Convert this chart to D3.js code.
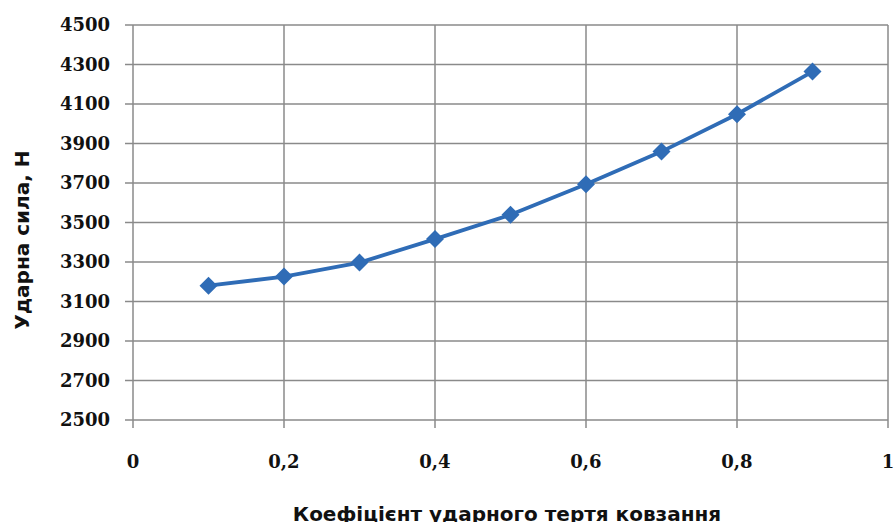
<!DOCTYPE html>
<html>
<head>
<meta charset="utf-8">
<script src="https://cdn.jsdelivr.net/npm/d3@7"></script>
<style>
  body { margin: 0; background: #fff; }
  svg { display: block; }
</style>
</head>
<body>
<svg></svg>
<script>
const width = 895, height = 522;
const margin = {left: 133, top: 25, right: 7, bottom: 102};

// data
const friction = [0.1, 0.2, 0.3, 0.4, 0.5, 0.6, 0.7, 0.8, 0.9];
const force = [3180, 3226, 3297, 3416, 3539, 3694, 3859, 4048, 4264];
const xTicks = [0, 0.2, 0.4, 0.6, 0.8, 1];
const yTicks = [2500, 2700, 2900, 3100, 3300, 3500, 3700, 3900, 4100, 4300, 4500];

const svg = d3.select("svg")
  .attr("width", width)
  .attr("height", height);

const x = d3.scaleLinear().domain([0, 1]).range([margin.left, width - margin.right]);
const y = d3.scaleLinear().domain([2500, 4500]).range([height - margin.bottom, margin.top]);

const gridColor = "#8a8a8a";

// horizontal grid + y ticks
svg.append("g")
  .selectAll("line")
  .data(yTicks)
  .join("line")
  .attr("x1", x(0) - 8)
  .attr("x2", x(1))
  .attr("y1", d => y(d))
  .attr("y2", d => y(d))
  .attr("stroke", gridColor)
  .attr("stroke-width", 1.5);

// vertical grid + x ticks
svg.append("g")
  .selectAll("line")
  .data(xTicks)
  .join("line")
  .attr("x1", d => x(d))
  .attr("x2", d => x(d))
  .attr("y1", y(4500))
  .attr("y2", y(2500) + 8)
  .attr("stroke", gridColor)
  .attr("stroke-width", 1.5);

// tick labels
svg.append("g")
  .selectAll("text")
  .data(yTicks)
  .join("text")
  .attr("x", x(0) - 23)
  .attr("y", d => y(d))
  .attr("dy", "0.36em")
  .attr("text-anchor", "end")
  .style("font", "bold 18px 'DejaVu Serif'")
  .attr("fill", "#111")
  .text(d => d);

svg.append("g")
  .selectAll("text")
  .data(xTicks)
  .join("text")
  .attr("x", d => x(d))
  .attr("y", 462)
  .attr("dy", "0.36em")
  .attr("text-anchor", "middle")
  .style("font", "bold 18px 'DejaVu Serif'")
  .attr("fill", "#111")
  .text(d => String(d).replace(".", ","));

// axis titles
svg.append("text")
  .attr("x", 507)
  .attr("y", 521)
  .attr("text-anchor", "middle")
  .style("font", "bold 20px 'DejaVu Sans'")
  .attr("fill", "#111")
  .text("Коефіцієнт ударного тертя ковзання");

svg.append("text")
  .attr("transform", "translate(29,240) rotate(-90)")
  .attr("text-anchor", "middle")
  .style("font", "bold 20px 'DejaVu Sans'")
  .attr("fill", "#111")
  .text("Ударна сила, Н");

// series
const blue = "#2f6cb6";
const line = d3.line()
  .x((d, i) => x(friction[i]))
  .y(d => y(d));

svg.append("path")
  .datum(force)
  .attr("d", line)
  .attr("fill", "none")
  .attr("stroke", blue)
  .attr("stroke-width", 3.8)
  .attr("stroke-linejoin", "round");

svg.append("g")
  .selectAll("path")
  .data(force)
  .join("path")
  .attr("transform", (d, i) => `translate(${x(friction[i])},${y(d)})`)
  .attr("d", "M0,-9L9,0L0,9L-9,0Z")
  .attr("fill", blue);
</script>
</body>
</html>
